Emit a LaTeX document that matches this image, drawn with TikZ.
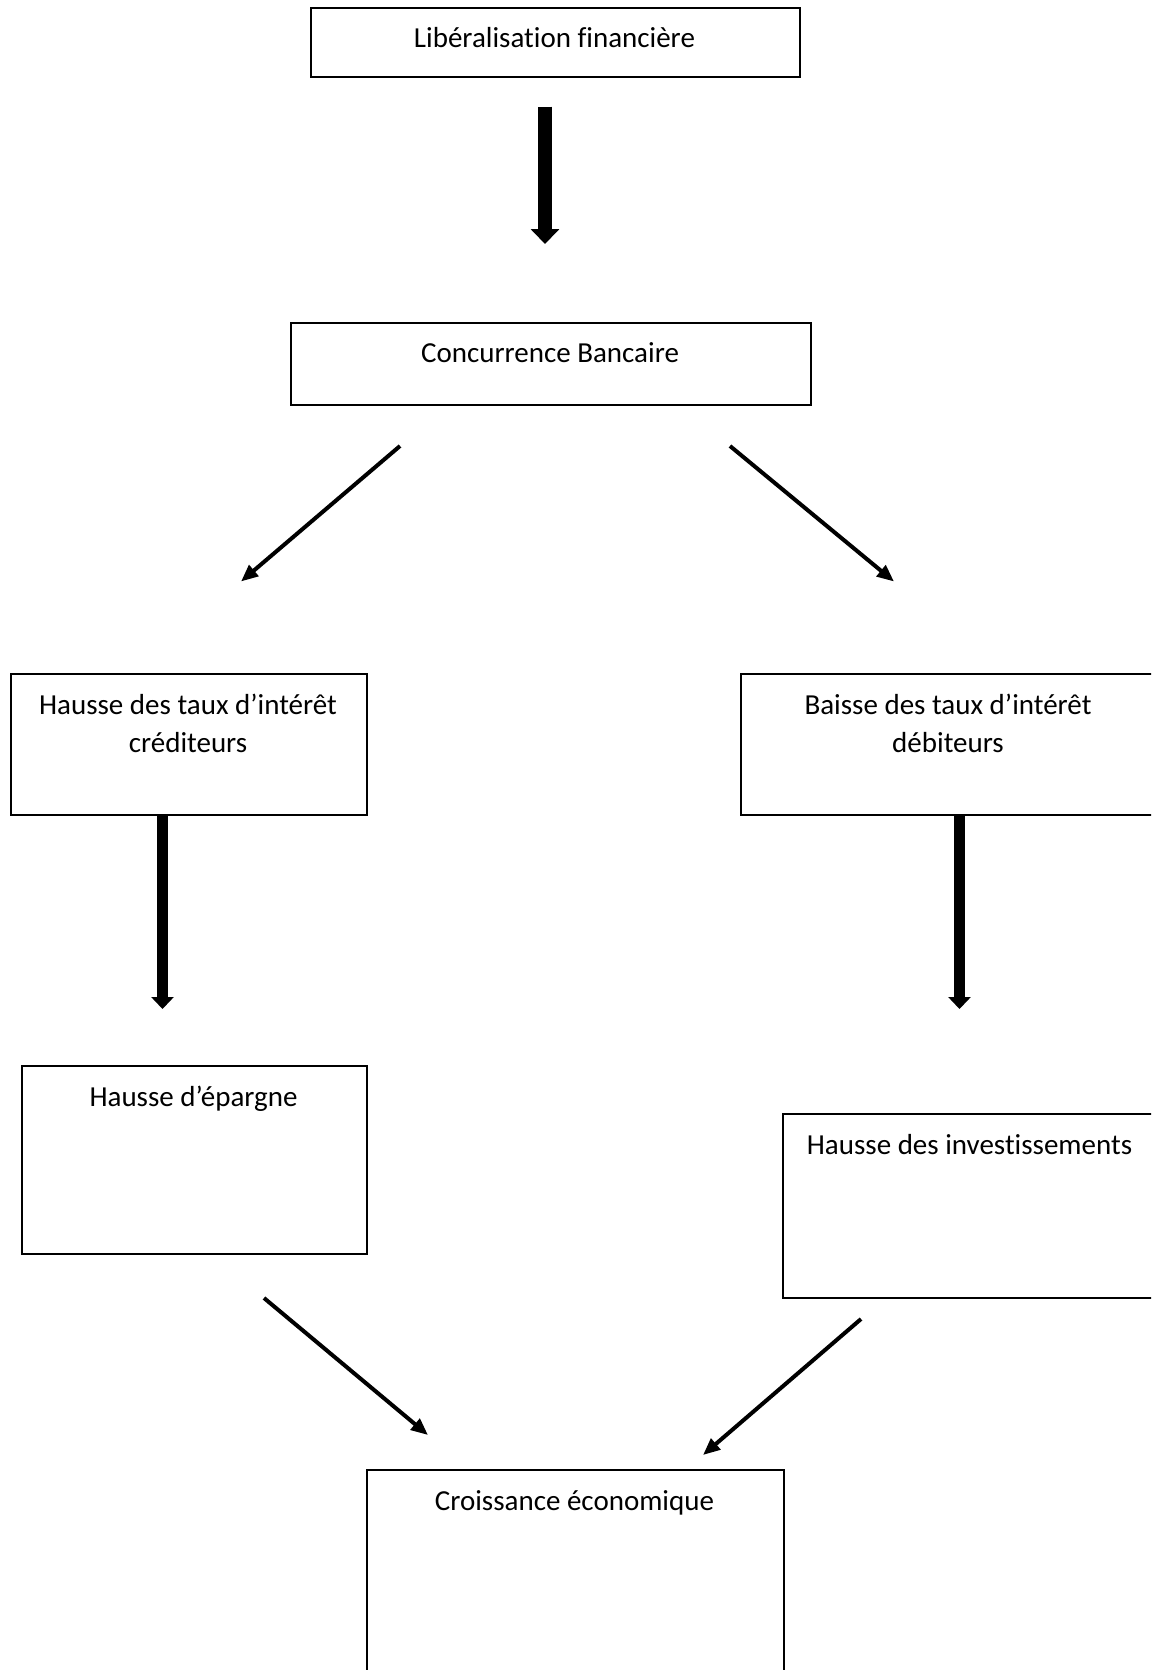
\documentclass[tikz,border=0pt]{standalone}
\usepackage{fontspec}
\setmainfont{Carlito}[Ligatures={NoCommon}]
\usetikzlibrary{arrows.meta}
\begin{document}
\begin{tikzpicture}[x=1pt,y=-1pt,
  box/.style={draw=black,line width=2pt,inner sep=0pt,anchor=north west},
  lbl/.style={anchor=base,align=center,inner sep=0pt,font=\fontsize{29}{38}\selectfont},
  bigarrow/.style={line width=14pt,-{Triangle[length=15pt,width=28pt]}},
  midarrow/.style={line width=11.5pt,-{Triangle[length=12pt,width=22pt]}},
  thinarrow/.style={line width=4pt,-{Triangle[length=17pt,width=14pt]}}]
\useasboundingbox (0,0) rectangle (1151,1670);
\clip (0,0) rectangle (1151,1670);

% boxes
\node[box,minimum width=489pt,minimum height=68pt] (b1) at (310,7.5) {};
\node[box,minimum width=520pt,minimum height=82pt] (b2) at (290,321.6) {};
\node[box,minimum width=356.4pt,minimum height=140.5pt] (b3) at (9.6,673) {};
\node[box,minimum width=417pt,minimum height=140.5pt] (b4) at (740,673) {};
\node[box,minimum width=345pt,minimum height=188pt] (b5) at (21,1065) {};
\node[box,minimum width=376pt,minimum height=184pt] (b6) at (781.5,1113) {};
\node[box,minimum width=417pt,minimum height=220pt] (b7) at (366,1469) {};

% texts (multi-line nodes: base = last line's baseline)
\node[lbl] (t1) at (554.5,48) {Libéralisation financière};
\node[lbl] (t2) at (550,362) {Concurrence Bancaire};
\node[lbl] (t3) at (188,752.5) {Hausse des taux d’intérêt\\créditeurs};
\node[lbl] (t4) at (948,752.5) {Baisse des taux d’intérêt\\débiteurs};
\node[lbl] (t5) at (193.5,1106.5) {Hausse d’épargne};
\node[lbl] (t6) at (969.5,1154) {Hausse des investissements};
\node[lbl] (t7) at (574.5,1510) {Croissance économique};

% arrow end points
\coordinate (a1s) at (545,106.5);
\coordinate (a1e) at (545,244);
\coordinate (d1s) at (400,446);
\coordinate (d1e) at (241,581.5);
\coordinate (d2s) at (730,446);
\coordinate (d2e) at (894,581.5);
\coordinate (a2s) at (162.5,816);
\coordinate (a2e) at (162.5,1009);
\coordinate (a3s) at (959.5,816);
\coordinate (a3e) at (959.5,1009);
\coordinate (d3s) at (264,1298);
\coordinate (d3e) at (428,1435);
\coordinate (d4s) at (861,1319);
\coordinate (d4e) at (703,1455);

% connectors
\draw[bigarrow] (a1s) -- (a1e);
\draw[thinarrow] (d1s) -- (d1e);
\draw[thinarrow] (d2s) -- (d2e);
\draw[midarrow] (a2s) -- (a2e);
\draw[midarrow] (a3s) -- (a3e);
\draw[thinarrow] (d3s) -- (d3e);
\draw[thinarrow] (d4s) -- (d4e);
\end{tikzpicture}
\end{document}
